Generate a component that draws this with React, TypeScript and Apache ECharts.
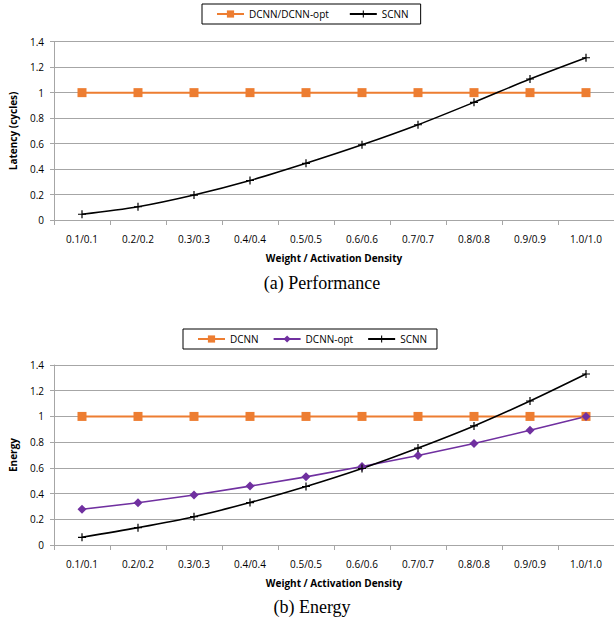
import React, { useEffect, useRef } from "react";
import * as echarts from "echarts";

const categories = ["0.1/0.1", "0.2/0.2", "0.3/0.3", "0.4/0.4", "0.5/0.5", "0.6/0.6", "0.7/0.7", "0.8/0.8", "0.9/0.9", "1.0/1.0"];
const perfDCNN = [1, 1, 1, 1, 1, 1, 1, 1, 1, 1];
const perfSCNN = [0.045, 0.104, 0.196, 0.31, 0.445, 0.59, 0.748, 0.924, 1.107, 1.274];
const energyDCNN = [1, 1, 1, 1, 1, 1, 1, 1, 1, 1];
const energyDCNNopt = [0.278, 0.329, 0.389, 0.458, 0.53, 0.61, 0.696, 0.79, 0.892, 1.0];
const energySCNN = [0.06, 0.135, 0.22, 0.33, 0.455, 0.595, 0.754, 0.926, 1.12, 1.33];
const yTicks = { min: 0, max: 1.4, interval: 0.2 };

const ORANGE = "#ED7D31";
const PURPLE = "#7030A0";
const BLACK = "#000000";
const GRID = "#A6A6A6";
const FONT = "Open Sans";
const PLUS = "path://M3.4,0h1.2v3.4h3.4v1.2h-3.4v3.4h-1.2v-3.4h-3.4v-1.2h3.4z";

export default function App() {
  const ref = useRef<HTMLDivElement>(null);
  useEffect(() => {
    if (!ref.current) return;
    const chart = echarts.init(ref.current, null, { renderer: "svg" });
    const xAxisBase = (gridIndex: number) => ({
      type: "category",
      gridIndex,
      data: categories,
      boundaryGap: true,
      name: "Weight / Activation Density",
      nameLocation: "middle",
      nameGap: 33,
      nameTextStyle: { fontFamily: FONT, fontSize: 10, fontWeight: "bold", color: "#000" },
      axisLine: { lineStyle: { color: GRID, width: 1 } },
      axisTick: { show: true, length: 5, alignWithLabel: false, lineStyle: { color: GRID } },
      axisLabel: { fontFamily: FONT, fontSize: 10, color: "#000", margin: 14, interval: 0 },
      splitLine: { show: false },
    });
    const yAxisBase = (gridIndex: number, name: string) => ({
      type: "value",
      gridIndex,
      ...yTicks,
      name,
      nameLocation: "middle",
      nameGap: 36,
      nameTextStyle: { fontFamily: FONT, fontSize: 10, fontWeight: "bold", color: "#000" },
      axisLine: { show: true, lineStyle: { color: GRID, width: 1 } },
      axisTick: { show: true, length: 4, inside: false, lineStyle: { color: GRID } },
      axisLabel: { fontFamily: FONT, fontSize: 10, color: "#000", margin: 10 },
      splitLine: { show: true, lineStyle: { color: GRID, width: 1 } },
    });
    const legendBase = {
      orient: "horizontal",
      borderColor: "#000",
      borderWidth: 1,
      itemWidth: 27,
      itemHeight: 9,
      textStyle: { fontFamily: FONT, fontSize: 10, color: "#000" },
      selectedMode: false,
    };
    chart.setOption({
      animation: false,
      backgroundColor: "#fff",
      grid: [
        { left: 51, top: 41.7, width: 567, height: 178.3 },
        { left: 47.5, top: 365, width: 572, height: 180 },
      ],
      legend: [
        { ...legendBase, left: 202, top: 4, itemGap: 20, padding: [5, 12, 5, 14], data: ["DCNN/DCNN-opt", "SCNN"] },
        { ...legendBase, left: 183, top: 329, itemGap: 14, padding: [5, 10, 5, 14], data: ["DCNN", "DCNN-opt", "SCNN"] },
      ],
      xAxis: [xAxisBase(0), xAxisBase(1)],
      yAxis: [yAxisBase(0, "Latency (cycles)"), yAxisBase(1, "Energy")],
      series: [
        {
          name: "DCNN/DCNN-opt",
          type: "line",
          xAxisIndex: 0,
          yAxisIndex: 0,
          data: perfDCNN,
          symbol: "rect",
          symbolSize: 9,
          lineStyle: { color: ORANGE, width: 2 },
          itemStyle: { color: ORANGE },
        },
        {
          name: "SCNN",
          type: "line",
          xAxisIndex: 0,
          yAxisIndex: 0,
          data: perfSCNN,
          smooth: 0.3,
          symbol: PLUS,
          symbolSize: 8,
          lineStyle: { color: BLACK, width: 1.6 },
          itemStyle: { color: BLACK },
        },
        {
          name: "DCNN",
          type: "line",
          xAxisIndex: 1,
          yAxisIndex: 1,
          data: energyDCNN,
          symbol: "rect",
          symbolSize: 9,
          lineStyle: { color: ORANGE, width: 2 },
          itemStyle: { color: ORANGE },
        },
        {
          name: "DCNN-opt",
          type: "line",
          xAxisIndex: 1,
          yAxisIndex: 1,
          data: energyDCNNopt,
          symbol: "diamond",
          symbolSize: 9,
          lineStyle: { color: PURPLE, width: 1.6 },
          itemStyle: { color: PURPLE },
        },
        {
          name: "SCNN",
          type: "line",
          xAxisIndex: 1,
          yAxisIndex: 1,
          data: energySCNN,
          smooth: 0.3,
          symbol: PLUS,
          symbolSize: 8,
          lineStyle: { color: BLACK, width: 1.6 },
          itemStyle: { color: BLACK },
        },
      ],
      graphic: [
        {
          type: "text",
          x: 322,
          y: 283,
          style: {
            text: "(a) Performance",
            fontFamily: "Liberation Serif",
            fontSize: 18,
            fill: "#000",
            textAlign: "center",
            textVerticalAlign: "middle",
          },
        },
        {
          type: "text",
          x: 312,
          y: 607,
          style: {
            text: "(b) Energy",
            fontFamily: "Liberation Serif",
            fontSize: 18,
            fill: "#000",
            textAlign: "center",
            textVerticalAlign: "middle",
          },
        },
      ],
    });
    return () => chart.dispose();
  }, []);
  return <div ref={ref} style={{ width: 614, height: 629, position: "absolute", left: 0, top: 0 }} />;
}
